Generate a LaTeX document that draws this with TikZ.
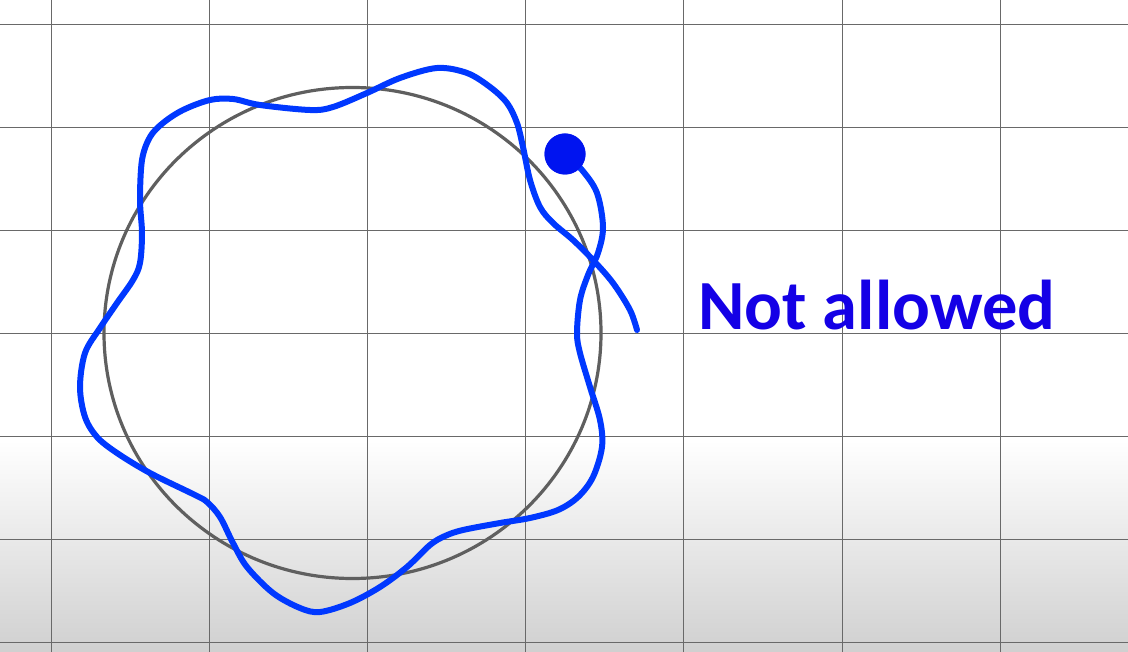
\documentclass[tikz,border=0pt]{standalone}
\usepackage{fontspec}
\newfontfamily\carlito{Carlito}
\definecolor{wavyblue}{RGB}{0,56,255}
\definecolor{dotblue}{RGB}{0,20,240}
\definecolor{textblue}{RGB}{20,0,230}
\definecolor{ringgray}{RGB}{95,95,95}
\definecolor{gridgray}{RGB}{105,105,105}
\definecolor{shadegray}{RGB}{208,208,208}
\tikzset{
  gridline/.style={draw=gridgray, line width=0.9pt},
  ringline/.style={draw=ringgray, line width=3.2pt},
  wavy/.style={draw=wavyblue, line width=6pt, line cap=round, line join=round},
  bigdot/.style={circle, fill=dotblue, inner sep=0pt, minimum size=41pt},
  notelabel/.style={text=textblue, font=\carlito\bfseries\fontsize{70.5}{80}\selectfont, inner sep=0pt, anchor=base west}
}
\begin{document}
\begin{tikzpicture}[x=1pt,y=-1pt]
\useasboundingbox (0,0) rectangle (1128,652);
\fill[white] (0,0) rectangle (1128,440);
\shade[top color=white, bottom color=shadegray] (0,440) rectangle (1128,652);
% grid
\foreach \gx in {51,209.2,367.4,525.6,683.8,842,1000.2}
  \draw[gridline] (\gx,0) -- (\gx,652);
\foreach \gy in {24.3,127.3,230.3,333.3,436.3,539.3,642.3}
  \draw[gridline] (0,\gy) -- (1128,\gy);
% reference circle
\draw[ringline] (352.5,333) ellipse [x radius=248.5, y radius=245.5];
% wavy path
\node[bigdot] (dot) at (565,154) {};
\coordinate (tail) at (637,330);
\draw[wavy] plot[smooth, tension=0.55] coordinates {
(565,154) (582,170) (597,193) (603,227) (598,253) (588,275) (580,300) (577,333)
(580,353) (590,387) (600,420) (602,447) (593,477) (578,497) (558,510) (530,518)
(500,523) (463,530) (445,536) (430,545) (407,567) (380,587) (350,603) (320,612)
(300,608) (273,593) (247,567) (233,543) (220,517) (207,502) (195,495) (150,473)
(117,453) (97,437) (85,417) (80,387) (85,353) (100,328) (117,303) (133,280)
(140,263) (142,233) (140,200) (142,160) (150,137) (163,123) (183,110) (210,100)
(233,99) (260,105) (310,110) (333,107) (367,93) (400,78) (437,68) (467,73)
(490,87) (507,103) (517,123) (523,147) (530,180) (540,207) (553,223) (573,240)
(593,260) (613,283) (630,310) (637,330)};
\node[bigdot] at (dot) {};
\node[notelabel] (label) at (698,330) {Not allowed};
\end{tikzpicture}
\end{document}
